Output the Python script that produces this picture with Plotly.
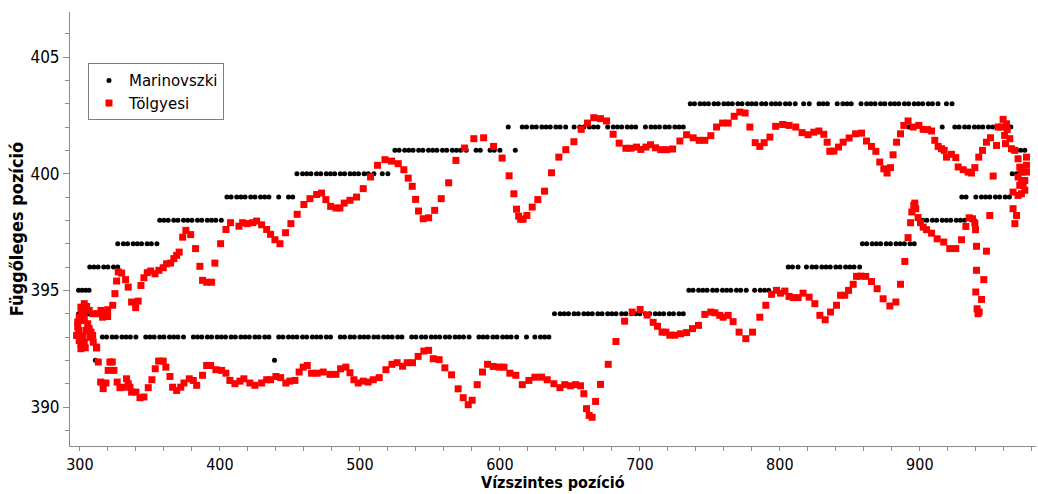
import plotly.graph_objects as go

# ---------------- Marinovszki (black dots) : x positions per vertical level ----------------
m_levels = [395, 394, 393, 392, 394, 395, 396, 397, 398, 399, 400, 401, 402,
            403, 402, 401, 400, 399, 398, 397, 396, 402, 401]
m_xs = [
    [299, 301.5, 304, 306.5],
    [299, 301, 303.5, 306, 308.5, 311, 313.5, 316],
    [316, 319, 323, 326, 330, 333, 336, 340, 347, 350, 353, 357, 360, 364, 367, 370, 374,
     381, 384, 387, 391, 394, 398, 401, 404, 408, 411, 415, 418, 421, 425, 428, 432, 435,
     442, 445, 449, 452, 455, 459, 462, 466, 469, 472, 476, 479, 486, 489, 493, 496, 500,
     503, 506, 510, 513, 517, 520, 523, 527, 530, 537, 540, 544, 547, 551, 554, 557, 561,
     564, 568, 571, 574, 578, 585, 588, 591, 595, 598, 602, 605, 608, 612, 619, 625, 629,
     632, 635],
    [311, 439],
    [639, 643, 646, 649, 653, 656, 660, 663, 666, 670, 673, 677, 680, 683, 687, 690, 694,
     697, 700, 704, 707, 711, 714, 717, 721, 724, 728, 731],
    [735, 738, 742, 745, 748, 752, 755, 759, 762, 765, 769, 772, 776, 782, 786, 789, 792],
    [806, 809, 813, 819, 823, 826, 830, 833, 836, 840, 843, 847, 850, 853, 857],
    [859, 862, 866, 869, 872, 876, 879, 883, 886, 889, 893, 896],
    [902, 905, 909, 912, 916, 919, 922, 926, 929, 932, 939],
    [930, 933, 940, 944, 947, 950, 954, 957, 961, 964],
    [966, 969, 971],
    [966, 969, 972, 975],
    [892, 916, 925, 928, 932, 935, 939, 942, 945, 949, 952, 956, 959, 962, 965],
    [736, 739, 743, 746, 749, 753, 756, 760, 763, 766, 770, 773, 777, 780, 783, 787, 790,
     794, 797, 800, 804, 807, 811, 817, 821, 828, 831, 834, 841, 845, 848, 851, 858, 862,
     865, 868, 872, 875, 879, 882, 885, 889, 892, 896, 899, 902, 906, 909, 913, 919, 923],
    [616, 619, 623, 626, 630, 633, 636, 640, 643, 647, 653, 657, 660, 664, 667, 670, 677,
     681, 684, 687, 691, 694, 697, 704, 708, 711, 714, 718, 721, 725, 728, 731],
    [525, 528, 532, 535, 538, 542, 545, 549, 552, 555, 559, 562, 566, 569, 572, 576, 583,
     586, 593, 596, 600],
    [455, 459, 462, 465, 469, 472, 476, 479, 482, 486, 489, 493, 496, 499, 503, 506, 510,
     516, 520],
    [405, 408, 412, 415, 418, 422, 425, 429, 432, 435, 442, 449, 452],
    [357, 360, 363, 367, 370, 374, 377, 380, 384, 387, 391, 394, 397, 401],
    [327, 331, 334, 338, 341, 344, 348, 351, 355],
    [307, 310, 313, 317, 320, 324, 327],
    [606],
    [611],
]

# ---------------- Tölgyesi (red squares) ----------------
t_x = [
    303.1, 300.7, 304.8, 301.4, 299.5, 298.4, 300.7, 303.1, 305.5, 306.6, 304.3, 299.1,
    297.6, 299.5, 300.7, 303.1, 301.9, 307.1, 307.9, 309.1, 309.5, 311.9, 313.4, 315.0,
    318.1, 319.8, 323.4, 309.1, 306.6, 303.1, 298.4, 299.5, 303.8, 300.7, 319.8, 316.2,
    325.0, 326.2, 327.4, 329.8, 332.6, 334.5, 336.9, 339.8, 341.6, 343.6, 345.7, 348.1,
    350.5, 353.6, 356.4, 359.5, 361.9, 364.8, 367.1, 369.1, 370.9, 373.4, 375.7, 379.1,
    382.6, 385.7, 387.6, 390.5, 394.1, 396.4, 400.5, 404.3, 407.6, 413.6, 416.2, 419.5,
    423.4, 426.2, 429.8, 433.4, 436.2, 439.3, 442.9, 446.9, 450.7, 455.2, 460.0, 464.3,
    469.1, 472.6, 475.7, 479.1, 482.9, 485.7, 488.8, 492.9, 497.6, 502.4, 507.6, 512.6,
    517.9, 522.6, 527.4, 531.4, 534.5, 537.4, 539.8, 541.9, 545.2, 549.1, 553.4, 558.1,
    563.4, 568.6, 574.8, 581.4, 588.4, 595.5, 601.6, 606.6, 610.0, 611.9, 613.4, 614.8,
    616.6, 619.3, 623.1, 627.1, 631.9, 636.9, 642.1, 647.1, 652.9, 658.1, 662.6, 667.1,
    671.9, 676.2, 680.9, 685.2, 690.0, 693.6, 697.6, 700.7, 704.3, 707.6, 711.2, 715.0,
    719.1, 723.4, 728.6, 733.4, 738.1, 742.4, 746.4, 750.7, 754.8, 759.1, 763.1, 767.4,
    771.4, 775.2, 778.6, 782.4, 785.7, 788.8, 792.9, 797.0, 802.0, 806.6, 811.4, 815.9,
    820.2, 824.3, 827.9, 831.4, 833.8, 835.7, 838.6, 841.9, 845.2, 849.5, 854.1, 858.4,
    861.9, 865.5, 868.6, 871.4, 874.3, 876.6, 879.1, 880.9, 883.4, 886.2, 888.6, 891.6,
    895.2, 899.3, 902.4, 905.5, 908.4, 910.7, 913.1, 915.5, 917.4, 919.1, 922.6, 925.7,
    927.4, 931.0, 934.5, 936.9, 939.3, 942.1, 944.8, 947.6, 950.5, 954.8, 955.9, 958.4,
    959.5, 961.9, 960.6, 961.2, 964.3, 962.4, 965.5, 967.9, 970.2, 976.2, 976.2, 971.4,
    972.6, 976.2, 970.2, 972.6, 975.0, 973.8, 971.4, 975.0, 972.6, 966.6, 970.2, 966.6,
    969.1, 967.9, 950.0, 952.4,
    940.5, 940.5, 940.0, 944.1, 940.9, 942.4, 941.6, 945.7, 947.6, 939.8, 939.3, 937.6,
    935.2, 932.9, 929.8, 925.7, 921.4, 917.1, 912.4, 908.4, 904.8, 902.4, 900.5, 898.8,
    897.1, 896.4, 895.7, 894.3, 893.4, 891.6, 889.3, 886.2, 882.9, 878.6, 873.8, 869.5,
    865.5, 861.4, 857.6, 854.8, 852.4, 849.1, 846.4, 843.4, 840.5, 836.2, 832.4, 828.6,
    825.0, 820.9, 816.6, 813.1, 809.5, 806.6, 803.6, 800.5, 797.6, 794.1, 790.0, 785.7,
    780.5, 775.7, 770.9, 766.6, 763.1, 759.5, 757.1, 753.6, 750.7, 746.4, 741.9, 737.6,
    733.4, 729.1, 725.0, 721.4, 718.6, 715.9, 712.6, 709.5, 705.2, 700.2, 694.5, 689.1,
    682.9, 677.4, 671.9, 668.4, 665.9, 663.8, 661.9, 660.0, 657.6, 654.1, 650.5, 646.4,
    642.9, 638.6, 633.8, 629.8, 625.0, 620.7, 616.0, 611.4, 607.1, 602.9, 599.3, 595.2,
    591.2, 587.6, 583.8, 580.2, 577.4, 573.8, 570.2, 565.5, 560.7, 556.6, 552.4, 549.1,
    545.7, 541.6, 537.6, 533.8, 530.5, 526.6, 522.9, 518.6, 513.8, 509.5, 505.9, 502.4,
    498.8, 495.7, 492.9, 490.0, 486.2, 482.9, 478.6, 473.8, 469.5, 465.5, 462.4, 459.5,
    456.6, 453.6, 450.0, 447.1, 443.4, 440.0, 436.2, 433.4, 429.8, 425.0, 421.4, 417.1,
    414.3, 410.7, 407.1, 404.3, 401.2, 397.1, 393.4, 390.5, 387.6, 383.4, 381.0, 378.1,
    374.3, 372.0, 369.1, 366.2, 364.3, 361.4, 359.5, 356.2, 353.8, 351.4, 348.8, 345.7,
    342.9, 340.0, 336.9, 335.7, 334.5, 333.3, 330.9, 328.6, 326.6, 324.3, 323.1, 321.4,
    320.2, 318.6, 316.6, 314.8, 313.1, 311.9,
]
t_y = [
    394.43, 394.28, 394.31, 394.07, 393.85, 393.64, 393.71, 393.79, 393.57, 393.36, 393.28, 393.28,
    393.07, 392.85, 392.71, 392.78, 392.99, 392.99, 393.21, 393.07, 392.78, 392.53, 394.00, 394.14,
    394.03, 394.17, 394.36, 394.00, 394.14, 394.07, 393.43, 393.07, 392.54, 392.50, 393.88, 393.85,
    394.86, 395.40, 395.79, 395.74, 395.46, 395.14, 394.50, 394.26, 394.54, 395.21, 395.54, 395.76,
    395.83, 395.71, 395.86, 395.97, 396.14, 396.17, 396.36, 396.50, 396.64, 397.28, 397.57, 397.39,
    396.79, 396.03, 395.43, 395.35, 395.35, 396.17, 397.00, 397.61, 397.90, 397.75, 397.90, 397.86,
    397.90, 397.97, 397.81, 397.61, 397.40, 397.17, 397.00, 397.47, 397.86, 398.26, 398.68, 398.93,
    399.11, 399.17, 398.89, 398.60, 398.53, 398.53, 398.74, 398.86, 399.00, 399.36, 399.86, 400.36,
    400.60, 400.54, 400.43, 400.17, 399.81, 399.46, 398.90, 398.40, 398.07, 398.11, 398.43, 398.93,
    399.61, 400.57, 401.10, 401.50, 401.54, 401.17, 400.67, 399.91, 399.14, 398.48, 398.18, 398.05,
    398.05, 398.21, 398.57, 398.89, 399.25, 400.04, 400.71, 401.03, 401.37, 401.90, 402.17, 402.40,
    402.36, 402.26, 401.69, 401.31, 401.09, 401.09, 401.14, 401.04, 401.14, 401.24, 401.11, 401.03,
    401.03, 401.06, 401.40, 401.67, 401.54, 401.43, 401.43, 401.63, 402.00, 402.17, 402.17, 402.46,
    402.64, 402.60, 402.00, 401.33, 401.17, 401.33, 401.57, 402.03, 402.11, 402.07, 402.00, 401.76,
    401.67, 401.78, 401.83, 401.69, 401.35, 400.96, 400.97, 401.14, 401.35, 401.53, 401.71, 401.74,
    401.40, 401.17, 400.96, 400.50, 400.21, 400.03, 400.26, 400.81, 401.35, 401.71, 402.07, 402.26,
    402.00, 402.07, 401.90, 401.89, 401.83, 401.43, 401.17, 401.07, 401.00, 400.71, 400.83, 400.69,
    400.29, 400.17, 400.07, 400.03, 400.26, 400.71, 401.00, 401.35, 401.54, 401.21, 402.00, 402.00,
    402.33, 402.14, 401.64, 401.29, 401.50, 401.89, 401.07, 401.00, 400.64, 400.71, 400.36, 400.28,
    400.07, 400.07, 399.86, 399.71, 399.71, 399.50, 399.50, 399.29, 399.14, 399.21, 399.07, 398.50,
    398.21, 397.86, 398.21, 399.90,
    396.89, 395.86, 394.93, 394.61, 394.21, 394.07, 394.00, 395.46, 396.68, 397.60, 397.88, 398.07,
    398.11, 397.74, 397.17, 396.79, 396.79, 397.07, 397.21, 397.45, 397.60, 397.71, 397.90, 398.12,
    398.50, 398.74, 398.64, 398.36, 397.90, 397.26, 396.24, 395.26, 394.50, 394.33, 394.64, 395.07,
    395.38, 395.60, 395.61, 395.60, 395.26, 395.00, 394.79, 394.79, 394.36, 394.07, 393.74, 393.93,
    394.43, 394.71, 394.88, 394.69, 394.69, 394.74, 394.97, 394.88, 395.00, 394.83, 394.36, 393.85,
    393.21, 392.93, 393.21, 393.66, 393.93, 393.85, 393.93, 394.04, 394.07, 393.97, 393.50, 393.36,
    393.19, 393.14, 393.08, 393.08, 393.21, 393.21, 393.46, 393.63, 393.94, 394.18, 394.07, 393.68,
    392.81, 391.83, 390.97, 390.24, 389.56, 389.64, 389.93, 390.57, 390.91, 390.96, 390.91, 390.96,
    390.83, 391.00, 391.17, 391.28, 391.28, 391.14, 390.96, 391.36, 391.45, 391.71, 391.71, 391.74,
    391.83, 391.50, 390.96, 390.29, 390.10, 390.40, 390.78, 391.38, 391.68, 392.03, 392.07, 392.43,
    392.40, 392.17, 391.90, 391.90, 391.75, 391.90, 391.83, 391.60, 391.26, 391.17, 391.07, 391.11,
    391.03, 391.17, 391.47, 391.71, 391.64, 391.40, 391.40, 391.50, 391.45, 391.45, 391.78, 391.71,
    391.50, 391.14, 391.11, 391.03, 391.26, 391.31, 391.17, 391.17, 391.03, 390.93, 391.03, 391.21,
    391.11, 391.00, 391.14, 391.45, 391.57, 391.60, 391.78, 391.78, 391.36, 390.93, 391.14, 391.21,
    391.03, 390.85, 390.71, 390.85, 391.31, 391.71, 391.97, 391.97, 391.64, 391.17, 390.83, 390.43,
    390.40, 390.64, 390.64, 390.85, 391.00, 391.21, 390.85, 390.83, 391.07, 391.57, 391.93, 391.93,
    391.57, 391.03, 390.79, 391.07, 391.93, 392.57,
]

# Axis tick values and labels
x_tickvals = [300, 400, 500, 600, 700, 800, 900]
y_tickvals = [390, 395, 400, 405]
x_title = "Vízszintes pozíció"
y_title = "Függőleges pozíció"

m_x, m_y = [], []
for lvl, xs in zip(m_levels, m_xs):
    m_x.extend(xs)
    m_y.extend([lvl] * len(xs))

FONT = "DejaVu Sans Condensed, DejaVu Sans, sans-serif"
AXIS_COLOR = "#8a8a8a"

fig = go.Figure()
fig.add_trace(go.Scatter(
    x=m_x, y=m_y, mode="markers", name="Marinovszki",
    marker=dict(symbol="circle", size=5, color="black", line=dict(width=0)),
))
fig.add_trace(go.Scatter(
    x=t_x, y=t_y, mode="markers", name="Tölgyesi",
    marker=dict(symbol="square", size=7, color="#ff0000", line=dict(width=0)),
))

fig.update_layout(
    width=1038, height=494,
    margin=dict(l=70, r=2, t=12, b=48),
    paper_bgcolor="white", plot_bgcolor="white",
    font=dict(family=FONT, size=17, color="black"),
    showlegend=True,
    legend=dict(
        x=0.0186, y=0.882, xanchor="left", yanchor="top",
        bgcolor="white", bordercolor="#7f7f7f", borderwidth=1,
        font=dict(family="DejaVu Sans, sans-serif", size=15, color="black"),
        itemsizing="trace", tracegroupgap=0, itemwidth=30,
    ),
    xaxis=dict(
        range=[292.9, 983], showgrid=False, zeroline=False,
        showline=True, linecolor=AXIS_COLOR, linewidth=1,
        ticks="outside", tickcolor=AXIS_COLOR, ticklen=4, tickwidth=1,
        tickvals=x_tickvals, ticktext=[str(v) for v in x_tickvals],
        tickfont=dict(family=FONT, size=16),
        minor=dict(dtick=20, tick0=300, ticks="outside", ticklen=4, tickcolor=AXIS_COLOR, showgrid=False),
        automargin=False,
    ),
    yaxis=dict(
        range=[388.33, 406.93], showgrid=False, zeroline=False,
        showline=True, linecolor=AXIS_COLOR, linewidth=1,
        ticks="outside", tickcolor=AXIS_COLOR, ticklen=6, tickwidth=1,
        tickvals=y_tickvals, ticktext=[str(v) for v in y_tickvals],
        tickfont=dict(family=FONT, size=17),
        minor=dict(dtick=1, tick0=390, ticks="outside", ticklen=4, tickcolor=AXIS_COLOR, showgrid=False),
        title=dict(text="<b>" + y_title + "</b>", font=dict(family=FONT, size=18), standoff=2),
        automargin=False,
    ),
    annotations=[dict(
        text="<b>" + x_title + "</b>", xref="paper", yref="paper",
        x=0.5, y=-0.1083, xanchor="center", yanchor="bottom", showarrow=False,
        font=dict(family=FONT, size=16, color="black"), borderpad=0,
    )],
)

fig.write_html("out.html")
